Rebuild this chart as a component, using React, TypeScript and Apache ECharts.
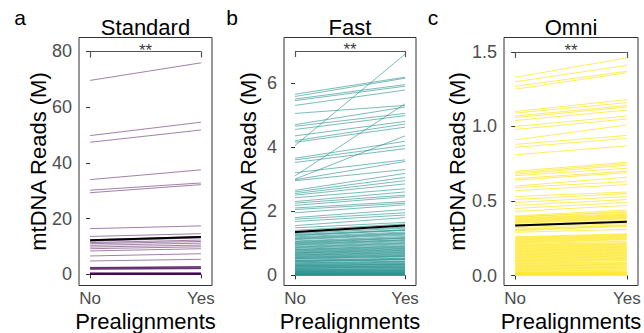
import React, { useEffect, useRef } from "react";
import * as echarts from "echarts";

const xLabels = ["No", "Yes"];

// Standard panel (M reads)
const standardNo = [69.6, 49.8, 47.4, 34.0, 30.2, 29.3, 16.4, 13.6, 12.4, 11.9, 11.4, 11.0, 10.4, 9.8, 9.2, 8.4, 6.6, 4.8, 2.5, 2.4, 2.3, 2.2, 2.0, 1.9, 1.8, 0.6, 0.5, 0.4, 0.35, 0.3, 0.25, 0.2, 0.15, 0.12, 0.1, 0.08, 0.05, 0.03];
const standardYes = [75.9, 54.6, 51.8, 37.5, 32.8, 32.2, 17.4, 14.6, 13.6, 13.1, 12.3, 11.8, 11.2, 10.5, 9.9, 9.2, 7.4, 5.4, 2.8, 2.7, 2.6, 2.4, 2.2, 2.1, 2.0, 0.65, 0.55, 0.45, 0.4, 0.33, 0.28, 0.22, 0.17, 0.14, 0.11, 0.09, 0.06, 0.04];
const standardMean = [12.2, 13.4];

// Fast panel (M reads)
const fastNo = [4.05, 5.65, 5.58, 5.5, 5.45, 5.3, 5.05, 3.1, 4.7, 4.65, 4.55, 4.35, 4.2, 4.15, 3.0, 3.65, 3.6, 3.52, 3.2, 2.98, 2.95, 2.65, 2.6, 2.55, 2.5, 2.42, 2.3, 2.25, 2.18, 2.1, 2.05, 1.95, 1.8, 1.75, 1.68, 1.55, 1.48, 1.4,
  1.33, 1.3, 1.27, 1.23, 1.2, 1.17, 1.13, 1.11, 1.07, 1.05, 1.01, 0.99, 0.95, 0.93, 0.9, 0.86, 0.84, 0.81, 0.78, 0.76, 0.72, 0.69, 0.67, 0.63, 0.6, 0.58, 0.55, 0.52, 0.5, 0.47, 0.44, 0.42, 0.39, 0.36, 0.34, 0.31, 0.29, 0.27, 0.25, 0.23, 0.21, 0.19, 0.17, 0.15, 0.13, 0.11, 0.09, 0.08, 0.06, 0.05, 0.04, 0.03, 0.02, 0.01, 0.005,
  1.25, 1.15, 1.03, 0.97, 0.88, 0.8, 0.74, 0.7, 0.65, 0.62, 0.56, 0.53, 0.46, 0.43, 0.38, 0.33, 0.3, 0.26, 0.22, 0.18, 0.14, 0.12, 0.1, 0.07, 0.045, 0.025, 0.015];
const fastYes = [6.9, 6.18, 6.15, 5.95, 5.9, 5.78, 5.3, 5.35, 5.25, 5.05, 4.98, 4.8, 4.72, 4.62, 4.35, 4.18, 4.05, 3.95, 3.6, 3.55, 3.3, 3.18, 3.05, 2.95, 2.85, 2.7, 2.6, 2.5, 2.45, 2.3, 2.25, 2.2, 2.05, 1.95, 1.88, 1.8, 1.65, 1.6,
  1.5, 1.47, 1.42, 1.4, 1.35, 1.32, 1.28, 1.25, 1.21, 1.18, 1.15, 1.11, 1.08, 1.05, 1.02, 0.98, 0.95, 0.92, 0.88, 0.86, 0.82, 0.78, 0.76, 0.72, 0.68, 0.66, 0.62, 0.59, 0.57, 0.53, 0.5, 0.48, 0.44, 0.41, 0.39, 0.35, 0.33, 0.31, 0.28, 0.26, 0.24, 0.21, 0.19, 0.17, 0.15, 0.12, 0.1, 0.09, 0.07, 0.06, 0.05, 0.03, 0.02, 0.01, 0.006,
  1.41, 1.3, 1.16, 1.1, 1.0, 0.9, 0.84, 0.8, 0.74, 0.7, 0.64, 0.6, 0.52, 0.49, 0.43, 0.37, 0.34, 0.29, 0.25, 0.2, 0.16, 0.14, 0.11, 0.08, 0.05, 0.028, 0.017];
const fastMean = [1.35, 1.55];

// Omni panel (M reads)
const omniNo = [1.33, 1.3, 1.27, 1.25, 1.1, 1.09, 1.07, 1.06, 1.04, 1.0, 0.98, 0.91, 0.88, 0.86, 0.81, 0.7, 0.69, 0.68, 0.67, 0.65, 0.64, 0.6, 0.59, 0.57, 0.53, 0.51, 0.49, 0.47, 0.45, 0.43,
  0.4, 0.39, 0.38, 0.37, 0.36, 0.35, 0.33, 0.31, 0.3, 0.29, 0.26, 0.25, 0.24, 0.23, 0.22, 0.21, 0.2, 0.19, 0.18, 0.17, 0.16, 0.15, 0.14, 0.13, 0.12, 0.11, 0.1, 0.09, 0.08, 0.07, 0.06, 0.05, 0.04, 0.03, 0.02, 0.015, 0.01, 0.005, 0.002,
  0.395, 0.385, 0.375, 0.365, 0.355, 0.34, 0.32, 0.305, 0.255, 0.245, 0.235, 0.225, 0.215, 0.205, 0.195, 0.185, 0.175, 0.165, 0.155, 0.145, 0.135, 0.125, 0.115, 0.105, 0.095, 0.085, 0.075, 0.065, 0.055, 0.045, 0.035, 0.025, 0.018, 0.012, 0.008];
const omniYes = [1.46, 1.41, 1.37, 1.36, 1.18, 1.16, 1.14, 1.13, 1.11, 1.07, 1.05, 1.01, 0.94, 0.92, 0.87, 0.76, 0.75, 0.74, 0.72, 0.7, 0.69, 0.66, 0.63, 0.61, 0.56, 0.55, 0.53, 0.51, 0.49, 0.47,
  0.44, 0.43, 0.41, 0.4, 0.39, 0.38, 0.36, 0.34, 0.33, 0.31, 0.28, 0.27, 0.26, 0.25, 0.24, 0.22, 0.21, 0.2, 0.19, 0.18, 0.17, 0.16, 0.15, 0.14, 0.13, 0.12, 0.11, 0.1, 0.085, 0.075, 0.065, 0.055, 0.045, 0.035, 0.022, 0.016, 0.011, 0.006, 0.003,
  0.425, 0.415, 0.405, 0.395, 0.385, 0.37, 0.35, 0.335, 0.275, 0.265, 0.255, 0.245, 0.23, 0.215, 0.205, 0.195, 0.185, 0.175, 0.165, 0.155, 0.145, 0.135, 0.125, 0.115, 0.105, 0.09, 0.08, 0.07, 0.06, 0.05, 0.038, 0.027, 0.02, 0.013, 0.009];
const omniMean = [0.335, 0.36];

const standardTicks = [0, 20, 40, 60, 80];
const fastTicks = [0, 2, 4, 6];
const omniTicks = [0, 0.5, 1.0, 1.5];

const FONT = "Liberation Sans, Arial, sans-serif";

const panels = [
  { letter: "a", title: "Standard", no: standardNo, yes: standardYes, mean: standardMean, ticks: standardTicks, digits: 0,
    color: "#440154", opacity: 0.5, min: -4, max: 85, bracket: 80, drop: 2.2, left: 79, width: 133, letterX: 20, nameX: 38 },
  { letter: "b", title: "Fast", no: fastNo, yes: fastYes, mean: fastMean, ticks: fastTicks, digits: 0,
    color: "#21908C", opacity: 0.6, min: -0.32, max: 7.42, bracket: 7.0, drop: 0.19, left: 284, width: 132, letterX: 232, nameX: 248 },
  { letter: "c", title: "Omni", no: omniNo, yes: omniYes, mean: omniMean, ticks: omniTicks, digits: 1,
    color: "#FDE725", opacity: 0.75, min: -0.067, max: 1.597, bracket: 1.5, drop: 0.04, left: 504, width: 134, letterX: 433, nameX: 457 },
];

const TOP = 37.5;
const HEIGHT = 248;

export default function App() {
  const ref = useRef<HTMLDivElement>(null);
  useEffect(() => {
    document.body.style.margin = "0";
    if (!ref.current) return;
    const chart = echarts.init(ref.current, null, { renderer: "svg" });
    const grid: any[] = [];
    const xAxis: any[] = [];
    const yAxis: any[] = [];
    const series: any[] = [];
    const graphic: any[] = [];
    panels.forEach((p, i) => {
      grid.push({ left: p.left, top: TOP, width: p.width, height: HEIGHT, show: true, borderColor: "#333", borderWidth: 1, backgroundColor: "#fff" });
      xAxis.push({
        type: "value", gridIndex: i, min: -0.1, max: 1.1,
        splitLine: { show: false }, axisLine: { show: false },
        axisTick: { show: true, length: 4, lineStyle: { color: "#333" }, customValues: [0, 1] },
        axisLabel: { customValues: [0, 1], formatter: (v: number) => xLabels[Math.round(v)], color: "#4D4D4D", fontSize: 17, fontFamily: FONT, margin: 4, lineHeight: 17 },
      });
      yAxis.push({
        type: "value", gridIndex: i, min: p.min, max: p.max,
        splitLine: { show: false }, axisLine: { show: false },
        axisTick: { show: true, length: 4, lineStyle: { color: "#333" }, customValues: p.ticks },
        axisLabel: { customValues: p.ticks, formatter: (v: number) => v.toFixed(p.digits), color: "#4D4D4D", fontSize: 18, fontFamily: FONT, margin: 7 },
      });
      series.push({
        type: "lines", coordinateSystem: "cartesian2d", xAxisIndex: i, yAxisIndex: i, silent: true,
        lineStyle: { color: p.color, width: 1, opacity: p.opacity },
        data: p.no.map((v, k) => ({ coords: [[0, v], [1, p.yes[k]]] })),
      });
      series.push({
        type: "lines", coordinateSystem: "cartesian2d", xAxisIndex: i, yAxisIndex: i, silent: true,
        lineStyle: { color: "#000", width: 2, opacity: 1 },
        data: [{ coords: [[0, p.mean[0]], [1, p.mean[1]]] }],
      });
      series.push({
        type: "lines", coordinateSystem: "cartesian2d", xAxisIndex: i, yAxisIndex: i, silent: true,
        lineStyle: { color: "#555", width: 1.2, opacity: 1 },
        data: [
          { coords: [[0, p.bracket], [1, p.bracket]] },
          { coords: [[0, p.bracket], [0, p.bracket - p.drop]] },
          { coords: [[1, p.bracket], [1, p.bracket - p.drop]] },
        ],
      });
      series.push({
        type: "scatter", xAxisIndex: i, yAxisIndex: i, silent: true, symbolSize: 0,
        data: [[0.5, p.bracket]],
        label: { show: true, position: "inside", offset: [0, -1], formatter: "**", color: "#000", fontSize: 17, fontFamily: FONT },
      });
      const cx = p.left + p.width / 2;
      graphic.push({ type: "text", x: cx, y: 27, style: { text: p.title, fontSize: 22, fontFamily: FONT, fill: "#000", textAlign: "center", textVerticalAlign: "middle" } });
      graphic.push({ type: "text", x: p.letterX, y: 17, style: { text: p.letter, fontSize: 21, fontFamily: FONT, fill: "#000", textAlign: "center", textVerticalAlign: "middle" } });
      graphic.push({ type: "text", x: cx, y: 321, style: { text: "Prealignments", fontSize: 22, lineHeight: 22, fontFamily: FONT, fill: "#000", textAlign: "center", textVerticalAlign: "middle" } });
      graphic.push({ type: "text", x: p.nameX, y: TOP + HEIGHT / 2, rotation: Math.PI / 2, style: { text: "mtDNA Reads (M)", fontSize: 22, fontFamily: FONT, fill: "#000", textAlign: "center", textVerticalAlign: "middle" } });
    });
    chart.setOption({ animation: false, backgroundColor: "#fff", grid, xAxis, yAxis, series, graphic });
    return () => chart.dispose();
  }, []);
  return <div ref={ref} style={{ width: 644, height: 333 }} />;
}
